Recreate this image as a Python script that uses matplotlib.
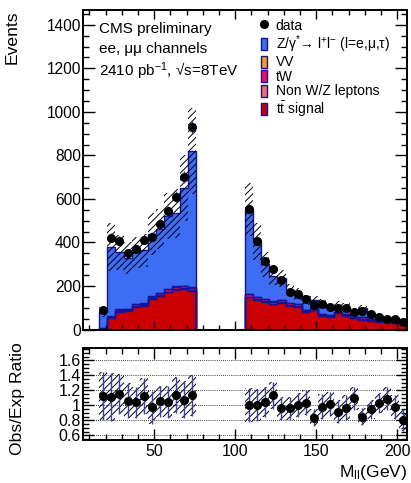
import numpy as np
import matplotlib
matplotlib.use('Agg')
import matplotlib.pyplot as plt
from matplotlib.patches import Patch
from matplotlib.lines import Line2D
from matplotlib.ticker import MultipleLocator

plt.rcParams['font.family'] = ['Liberation Sans', 'DejaVu Sans']
plt.rcParams['mathtext.fontset'] = 'custom'
plt.rcParams['mathtext.rm'] = 'Liberation Sans'
plt.rcParams['mathtext.it'] = 'Liberation Sans:italic'
plt.rcParams['mathtext.bf'] = 'Liberation Sans:bold'
plt.rcParams['hatch.linewidth'] = 0.7

# ---------------- data ----------------
edges_left = np.arange(16, 77, 5)      # 12 bins, 16-76 GeV
edges_right = np.arange(106, 207, 5)   # 20 bins, 106-206 GeV

data_left = [90, 422, 408, 350, 370, 411, 427, 485, 545, 611, 700, 930]
mc_left = [80, 381, 354, 329, 356, 364, 439, 461, 522, 535, 650, 821]
tt_left = [4, 51, 82, 85, 105, 108, 140, 155, 171, 182, 186, 177]
nonwz_left = [0.5, 3, 3, 3, 3, 3, 3, 3, 3, 3, 3, 3]
tw_left = [1, 5, 6, 6, 7, 7, 8, 9, 10, 10, 10, 10]
vv_left = [0.5, 2, 2, 2, 2, 2, 2, 3, 3, 3, 3, 3]
rel_left = [0.28, 0.29, 0.23, 0.22, 0.20, 0.21, 0.22, 0.20, 0.20, 0.21, 0.23, 0.24]

data_right = [554, 408, 315, 278, 226, 174, 165, 140, 113, 118,
              105, 101, 101, 80, 85, 71, 59, 50, 50, 33]
mc_right = [551, 406, 300, 245, 235, 181, 164, 135, 135, 120,
            103, 110, 104, 73, 100, 75, 57, 46, 51, 41]
tt_right = [148, 136, 128, 116, 123, 110, 105, 82, 90, 64,
            59, 74, 64, 51, 45, 41, 36, 36, 31, 25]
nonwz_right = [3, 2, 2, 2, 2, 2, 2, 1, 1, 1, 1, 1, 1, 1, 1, 1, 1, 1, 1, 1]
tw_right = [12, 11, 10, 9, 9, 8, 8, 7, 7, 6, 6, 6, 5, 5, 10, 5, 4, 4, 4, 3]
vv_right = [2, 2, 2, 2, 2, 2, 2, 1, 1, 1, 1, 1, 1, 1, 1, 1, 1, 1, 1, 1]
rel_right = [0.22, 0.21, 0.19, 0.16, 0.16, 0.16, 0.16, 0.16, 0.13, 0.165,
             0.16, 0.17, 0.17, 0.14, 0.13, 0.13, 0.13, 0.14, 0.165, 0.18]

labels = ['data', r'Z/γ$^{*}$→ l$^{+}$l$^{-}$ (l=e,μ,τ)', 'VV', 'tW',
          'Non W/Z leptons', r't$\bar{\mathrm{t}}$ signal']

# ---------------- style ----------------
c_z = '#3d6cf5'
c_vv = '#ff9a0a'
c_tw = '#f0105a'
c_nonwz = '#ff6868'
c_tt = '#cc0000'
c_line = '#14149a'
c_err = '#3a3ac8'

fig = plt.figure(figsize=(4.11, 4.83), dpi=100)
ax = fig.add_axes([83/411, 1-329.5/483, 324/411, 319.5/483])
axr = fig.add_axes([83/411, 1-440/483, 324/411, 92.5/483])


def draw_segment(edges, data, mc, tt, nonwz, tw, vv, rel):
    data = np.asarray(data, float)
    mc = np.asarray(mc, float)
    tt = np.asarray(tt, float)
    s1 = tt + np.asarray(nonwz, float)
    s2 = s1 + np.asarray(tw, float)
    s3 = s2 + np.asarray(vv, float)
    rel = np.asarray(rel, float)
    for vals, col in [(mc, c_z), (s3, c_vv), (s2, c_tw), (s1, c_nonwz), (tt, c_tt)]:
        ax.stairs(vals, edges, fill=True, facecolor=col, edgecolor='none', zorder=1)
        ax.stairs(vals, edges, fill=False, edgecolor=c_line, lw=1.0, zorder=1.1)
    ax.stairs(mc * (1 + rel), edges, baseline=mc * (1 - rel), fill=True,
              facecolor='none', edgecolor='black', hatch='/////', lw=0, zorder=2)
    centers = 0.5 * (edges[:-1] + edges[1:])
    ax.errorbar(centers, data, yerr=np.sqrt(data), fmt='o', color='black',
                ecolor=c_err, elinewidth=1, ms=5.5, capsize=0, zorder=3)
    r = data / mc
    er = r * rel
    axr.stairs(r + er, edges, baseline=r - er, fill=True, facecolor='none',
               edgecolor='black', hatch='/////', lw=0, zorder=2)
    axr.errorbar(centers, r, yerr=er, fmt='o', color='black', ecolor=c_err,
                 elinewidth=1, ms=5.5, capsize=0, zorder=3)


draw_segment(edges_left, data_left, mc_left, tt_left, nonwz_left, tw_left, vv_left, rel_left)
draw_segment(edges_right, data_right, mc_right, tt_right, nonwz_right, tw_right, vv_right, rel_right)

# main axes
ax.set_xlim(6, 206)
ax.set_ylim(0, 1468)
ax.xaxis.set_major_locator(MultipleLocator(50))
ax.xaxis.set_minor_locator(MultipleLocator(10))
ax.yaxis.set_major_locator(MultipleLocator(200))
ax.yaxis.set_minor_locator(MultipleLocator(50))
ax.tick_params(which='both', direction='in', top=True, right=True, labelbottom=False,
               labelsize=11.2, pad=1.5, width=1.0)
ax.tick_params(axis='y', which='major', length=8.5)
ax.tick_params(axis='y', which='minor', length=4.5)
ax.tick_params(axis='x', which='major', length=6.5)
ax.tick_params(axis='x', which='minor', length=3.5)
for sp in ax.spines.values():
    sp.set_linewidth(1.4)
ax.set_ylabel('Events', fontsize=12.6, loc='top')
ax.yaxis.set_label_coords(-0.195, 1.0)

ax.text(0.049, 0.940, 'CMS preliminary', transform=ax.transAxes, fontsize=11, va='center')
ax.text(0.049, 0.878, 'ee, μμ channels', transform=ax.transAxes, fontsize=11, va='center')
ax.text(0.049, 0.809, r'2410 pb$^{-1}$, √s=8TeV', transform=ax.transAxes, fontsize=11, va='center')

handles = [Line2D([], [], marker='o', ls='none', color='black', ms=5.5),
           Patch(facecolor=c_z, edgecolor=c_line, lw=1),
           Patch(facecolor=c_vv, edgecolor=c_line, lw=1),
           Patch(facecolor=c_tw, edgecolor=c_line, lw=1),
           Patch(facecolor=c_nonwz, edgecolor=c_line, lw=1),
           Patch(facecolor=c_tt, edgecolor=c_line, lw=1)]
ax.legend(handles, labels, loc='upper left', bbox_to_anchor=(0.548, 0.973),
          frameon=False, fontsize=10, handlelength=0.5, handleheight=0.95,
          handletextpad=0.6, labelspacing=0.04, borderpad=0, borderaxespad=0)

# ratio axes
axr.set_xlim(6, 206)
axr.set_ylim(0.54, 1.77)
for yv in [0.6, 0.8, 1.0, 1.2, 1.4, 1.6]:
    axr.axhline(yv, color='black', lw=0.6, ls=(0, (1, 1.5)), zorder=0.5)
axr.xaxis.set_major_locator(MultipleLocator(50))
axr.xaxis.set_minor_locator(MultipleLocator(10))
axr.yaxis.set_major_locator(MultipleLocator(0.2))
axr.yaxis.set_minor_locator(MultipleLocator(0.05))
axr.set_yticks([0.6, 0.8, 1.0, 1.2, 1.4, 1.6])
axr.set_yticklabels(['0.6', '0.8', '1', '1.2', '1.4', '1.6'])
axr.tick_params(which='both', direction='in', top=True, right=True,
                labelsize=11.5, pad=1.5, width=1.0)
axr.tick_params(axis='x', which='major', length=8, pad=3)
axr.tick_params(axis='x', which='minor', length=4)
axr.tick_params(axis='y', which='major', length=8)
axr.tick_params(axis='y', which='minor', length=4)
for sp in axr.spines.values():
    sp.set_linewidth(1.4)
axr.set_ylabel('Obs/Exp Ratio', fontsize=12.6)
axr.yaxis.set_label_coords(-0.179, 0.45)
axr.set_xlabel(r'M$_{\mathrm{ll}}$(GeV)', fontsize=12.6, ha='right', va='center')
axr.xaxis.set_label_coords(1.0, -0.35)

fig.savefig('out.png', dpi=100)
